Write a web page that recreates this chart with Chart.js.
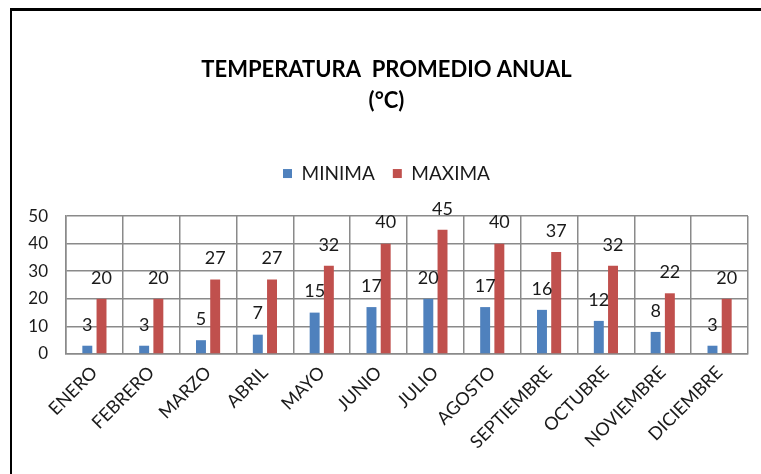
<!DOCTYPE html>
<html>
<head>
<meta charset="utf-8">
<script src="https://cdn.jsdelivr.net/npm/chart.js@4.4.1/dist/chart.umd.min.js"></script>
<style>
  html, body { margin: 0; padding: 0; background: #fff; }
  #wrap { position: relative; width: 761px; height: 474px; overflow: hidden; }
  #frame { position: absolute; left: 10px; top: 8px; width: 760px; height: 480px;
           border-top: 3px solid #000; border-left: 2px solid #000; box-sizing: border-box; }
  canvas { position: absolute; left: 0; top: 0; }
</style>
</head>
<body>
<div id="wrap">
  <div id="frame"></div>
  <canvas id="chart" width="761" height="474"></canvas>
</div>
<script>
const months = ['ENERO', 'FEBRERO', 'MARZO', 'ABRIL', 'MAYO', 'JUNIO', 'JULIO',
                'AGOSTO', 'SEPTIEMBRE', 'OCTUBRE', 'NOVIEMBRE', 'DICIEMBRE'];
const minima = [3, 3, 5, 7, 15, 17, 20, 17, 16, 12, 8, 3];
const maxima = [20, 20, 27, 27, 32, 40, 45, 40, 37, 32, 22, 20];
const yTicks = [0, 10, 20, 30, 40, 50];

const FONT = 'Lato, "Open Sans", sans-serif';

// Writes each bar's value above it
const valueLabels = {
  id: 'valueLabels',
  afterDatasetsDraw(chart) {
    const ctx = chart.ctx;
    ctx.save();
    ctx.font = '18px ' + FONT;
    ctx.fillStyle = '#1a1a1a';
    ctx.textAlign = 'center';
    ctx.textBaseline = 'middle';
    chart.data.datasets.forEach((ds, i) => {
      chart.getDatasetMeta(i).data.forEach((bar, j) => {
        ctx.fillText(String(ds.data[j]), bar.x, bar.y - 21);
      });
    });
    ctx.restore();
  }
};

new Chart(document.getElementById('chart'), {
  type: 'bar',
  data: {
    labels: months,
    datasets: [
      { label: 'MINIMA', data: minima, backgroundColor: '#4F81BD' },
      { label: 'MAXIMA', data: maxima, backgroundColor: '#C0504D' }
    ]
  },
  options: {
    responsive: false,
    animation: false,
    layout: { padding: { top: 10, right: 13, left: 25, bottom: 0 } },
    datasets: { bar: { categoryPercentage: 0.5, barPercentage: 0.7 } },
    plugins: {
      title: {
        display: true,
        text: ['TEMPERATURA  PROMEDIO ANUAL', '(°C)'],
        color: '#000',
        font: { family: FONT, size: 22, weight: 'bold', lineHeight: 1.41 },
        padding: { top: 44, bottom: 30 }
      },
      // empty spacer between the legend and the plot area
      subtitle: {
        display: true,
        text: '',
        weight: 500,
        font: { size: 1, lineHeight: 1 },
        padding: { top: 22, bottom: 0 }
      },
      legend: {
        display: true,
        labels: {
          boxWidth: 9, boxHeight: 9, color: '#1a1a1a',
          font: { family: FONT, size: 19 },
          padding: 18
        }
      },
      tooltip: { enabled: false }
    },
    scales: {
      x: {
        grid: { color: '#8a8a8a', lineWidth: 1.5, drawTicks: false },
        border: { color: '#8a8a8a', width: 1.5 },
        ticks: {
          color: '#1a1a1a', font: { family: FONT, size: 18 },
          maxRotation: 45, minRotation: 45, padding: 8
        },
        afterFit(scale) { scale.height = 120; }
      },
      y: {
        min: 0, max: 50,
        grid: { color: '#8a8a8a', lineWidth: 1.5, drawTicks: false },
        border: { color: '#8a8a8a', width: 1.5 },
        afterBuildTicks(scale) { scale.ticks = yTicks.map(v => ({ value: v })); },
        ticks: { color: '#1a1a1a', font: { family: FONT, size: 17 }, padding: 18 },
        afterFit(scale) { scale.width = 41; }
      }
    }
  },
  plugins: [valueLabels]
});
</script>
</body>
</html>
